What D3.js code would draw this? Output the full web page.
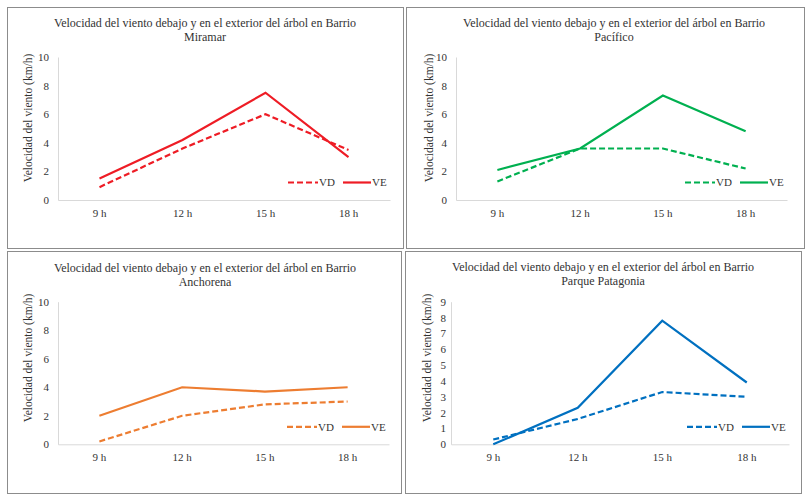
<!DOCTYPE html>
<html>
<head>
<meta charset="utf-8">
<script src="https://cdn.jsdelivr.net/npm/d3@7"></script>
<style>
  body { margin: 0; background: #fff; }
  svg text { font-family: "Times New Roman", "Liberation Serif", serif !important; fill: #333; }
</style>
</head>
<body>
<div class="chart"></div>
<script>
var width = 809, height = 501;

// data
var hours = ["9 h", "12 h", "15 h", "18 h"];
var barrios = ["Miramar", "Pacífico", "Anchorena", "Parque Patagonia"];
var vdMiramar = [0.9, 3.6, 6.0, 3.5];
var veMiramar = [1.5, 4.2, 7.5, 3.0];
var vdPacifico = [1.3, 3.6, 3.6, 2.2];
var vePacifico = [2.1, 3.6, 7.3, 4.8];
var vdAnchorena = [0.2, 2.0, 2.8, 3.0];
var veAnchorena = [2.0, 4.0, 3.7, 4.0];
var vdPatagonia = [0.3, 1.6, 3.3, 3.0];
var vePatagonia = [0.0, 2.3, 7.8, 3.9];
var yMax = [10, 10, 10, 9];
var yStep = [2, 2, 2, 1];
var titleLine1 = "Velocidad del viento debajo y en el exterior del árbol en Barrio";
var yLabel = "Velocidad del viento (km/h)";
var seriesNames = ["VD", "VE"];

var vdAll = [vdMiramar, vdPacifico, vdAnchorena, vdPatagonia];
var veAll = [veMiramar, vePacifico, veAnchorena, vePatagonia];
var colors = ["#ee1c25", "#00b050", "#ed7d31", "#0070c0"];

// layout of each panel: border box, plot area, title center, y-label position
var panels = [
  { bx: 7.5, by: 7.5, bw: 396, bh: 241, x0: 58, x1: 390, yt: 57, yb: 200, tx: 205, ty: 27, lx: 28, ly: 118, tickDx: 9 },
  { bx: 406.5, by: 7.5, bw: 398, bh: 241, x0: 456, x1: 787, yt: 57, yb: 200, tx: 614, ty: 27, lx: 429, ly: 118, tickDx: 9 },
  { bx: 7.5, by: 251.5, bw: 394, bh: 242, x0: 58, x1: 389, yt: 301.7, yb: 444.3, tx: 205, ty: 272, lx: 28, ly: 358, tickDx: 9 },
  { bx: 405.5, by: 251.5, bw: 396, bh: 242, x0: 451, x1: 789, yt: 301.7, yb: 444.3, tx: 603, ty: 271, lx: 427, ly: 358, tickDx: 5 }
];

var svg = d3.select(".chart")
  .append("svg")
  .attr("width", width)
  .attr("height", height);

panels.forEach(function(p, i) {
  var g = svg.append("g").attr("class", "panel");

  g.append("rect")
    .attr("x", p.bx).attr("y", p.by)
    .attr("width", p.bw).attr("height", p.bh)
    .attr("fill", "#fff")
    .attr("stroke", "#8c8c8c")
    .attr("stroke-width", 1);

  // title (two lines)
  var t = g.append("text")
    .attr("x", p.tx).attr("y", p.ty)
    .attr("text-anchor", "middle")
    .style("font-size", "12px");
  t.append("tspan").attr("x", p.tx).text(titleLine1);
  t.append("tspan").attr("x", p.tx).attr("dy", 14).text(barrios[i]);

  var x_scale = d3.scaleBand()
    .domain(hours)
    .range([p.x0, p.x1]);

  var y_scale = d3.scaleLinear()
    .domain([0, yMax[i]])
    .range([p.yb, p.yt]);

  // axes
  var yAxis = g.append("g")
    .attr("transform", "translate(" + p.x0 + ",0)")
    .call(d3.axisLeft(y_scale).tickValues(d3.range(0, yMax[i] + 0.001, yStep[i])).tickSize(0).tickPadding(p.tickDx));
  var xAxis = g.append("g")
    .attr("transform", "translate(0," + p.yb + ")")
    .call(d3.axisBottom(x_scale).tickSize(0).tickPadding(9));
  [yAxis, xAxis].forEach(function(a) {
    a.attr("font-family", null).attr("font-size", null);
    a.select(".domain").attr("stroke", "#d9d9d9").attr("stroke-width", 1);
    a.selectAll("text")
      .style("font-size", "11px");
  });

  // y label
  g.append("text")
    .attr("transform", "translate(" + p.lx + "," + p.ly + ") rotate(-90)")
    .attr("text-anchor", "middle")
    .attr("dy", "0.35em")
    .style("font-size", "11.5px")
    .text(yLabel);

  var linePath = d3.line()
    .x(function(d, j) { return x_scale(hours[j]) + x_scale.bandwidth() / 2; })
    .y(function(d) { return y_scale(d); });

  g.append("path")
    .attr("d", linePath(vdAll[i]))
    .attr("fill", "none")
    .attr("stroke", colors[i])
    .attr("stroke-width", 2.2)
    .attr("stroke-dasharray", "6,3");

  g.append("path")
    .attr("d", linePath(veAll[i]))
    .attr("fill", "none")
    .attr("stroke", colors[i])
    .attr("stroke-width", 2.2);

  // legend
  var ly = p.yb - 17.5;
  var legendX = [p.x1 - 102, p.x1 - 47];
  seriesNames.forEach(function(name, k) {
    g.append("line")
      .attr("x1", legendX[k]).attr("x2", legendX[k] + (k == 0 ? 30 : 28))
      .attr("y1", ly).attr("y2", ly)
      .attr("stroke", colors[i])
      .attr("stroke-width", 2.2)
      .attr("stroke-dasharray", k == 0 ? "6,3" : null);
    g.append("text")
      .attr("x", legendX[k] + (k == 0 ? 31 : 29))
      .attr("y", ly)
      .attr("dy", "0.35em")
      .style("font-size", "11px")
      .text(name);
  });
});
</script>
</body>
</html>
